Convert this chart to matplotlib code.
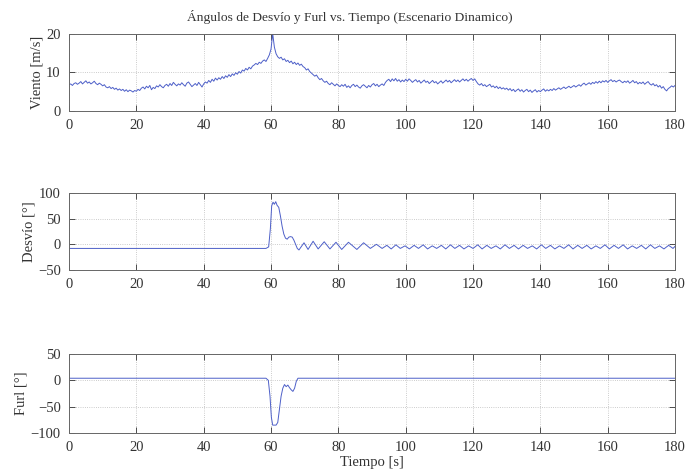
import numpy as np
import matplotlib
matplotlib.use("Agg")
import matplotlib.pyplot as plt

plt.rcParams['font.family'] = ['Liberation Serif', 'DejaVu Serif']

title = "Ángulos de Desvío y Furl vs. Tiempo (Escenario Dinamico)"
xlabel = "Tiempo [s]"
ylabels = ["Viento [m/s]", "Desvío [°]", "Furl [°]"]
xticks = [0, 20, 40, 60, 80, 100, 120, 140, 160, 180]

# Wind speed sampled every 0.5 s from 0 to 180 s
wind_step = 0.5
wind = [
    6.8,7.0,6.6,7.1,7.3,6.9,7.2,7.6,7.0,7.4,7.8,7.2,7.5,7.0,7.3,7.7,7.1,6.8,7.2,6.9,
    6.5,6.8,6.2,6.0,6.3,5.8,6.1,5.6,5.9,5.4,5.7,5.3,5.6,5.1,5.5,5.0,5.4,5.2,4.9,5.3,
    5.1,5.6,5.3,5.9,6.2,5.7,6.4,6.0,6.6,5.5,6.1,5.8,6.5,6.2,6.8,6.3,6.0,6.6,6.9,6.4,
    7.1,6.6,7.4,6.9,6.5,7.0,6.7,7.3,6.8,6.4,7.2,7.5,6.9,6.3,6.7,7.1,6.6,7.4,6.8,6.2,
    7.0,7.5,7.2,7.9,7.4,8.2,7.7,8.5,8.0,8.6,8.2,8.9,8.4,9.1,8.7,9.4,8.9,9.6,9.2,9.9,
    9.5,10.2,9.8,10.6,10.3,11.0,10.6,11.3,10.9,11.6,11.9,12.3,12.0,12.6,12.3,12.9,13.2,12.8,13.6,14.5,
    16.0,20.0,16.5,14.8,14.0,13.6,13.9,13.2,13.5,12.8,13.1,12.5,12.9,12.2,12.6,12.0,12.4,11.8,12.1,11.5,
    11.2,10.6,10.9,10.2,9.8,9.4,9.0,9.3,8.6,8.1,8.4,7.8,7.4,7.7,7.1,6.8,7.3,6.9,6.5,7.0,
    6.6,6.3,6.8,6.4,6.9,6.1,6.5,6.0,6.6,6.9,6.3,6.7,6.2,5.9,6.5,6.8,6.4,6.0,6.6,6.2,
    6.8,7.1,6.5,6.9,6.3,6.7,7.0,6.6,7.4,7.9,8.2,7.6,8.3,7.8,8.4,7.7,8.1,7.5,8.0,7.6,
    8.2,7.7,8.3,7.9,7.4,7.8,8.1,7.5,7.9,7.2,7.6,8.0,7.4,7.7,7.1,7.5,7.9,7.3,7.6,7.0,
    7.4,7.8,7.2,7.6,8.0,7.5,7.9,7.3,7.7,8.1,7.6,8.0,7.5,7.9,8.3,7.8,8.2,7.7,8.1,8.4,
    7.9,8.3,7.6,7.0,6.7,7.1,6.5,6.8,6.3,6.6,6.9,6.2,6.5,6.0,6.4,5.8,6.2,5.7,6.0,5.6,
    5.9,5.4,5.8,5.2,5.6,5.0,5.4,5.7,5.1,5.5,4.9,5.3,5.6,5.0,5.4,4.8,5.2,5.5,4.9,5.3,
    5.0,5.4,5.7,5.1,5.5,5.2,5.6,5.3,5.8,5.4,5.7,6.0,5.6,5.9,6.2,5.8,6.1,6.4,6.0,6.3,
    6.6,6.2,6.5,6.8,6.4,6.9,7.2,6.7,7.0,7.3,6.9,7.4,7.1,7.6,7.2,7.7,7.3,7.8,7.5,7.9,
    7.4,7.8,8.1,7.6,7.9,7.5,7.8,8.0,7.6,7.3,7.7,7.4,7.8,7.2,7.5,7.9,7.3,7.6,7.0,7.4,
    7.1,7.5,6.9,7.3,7.6,7.0,6.7,7.1,6.5,6.8,6.2,6.6,5.9,6.3,5.6,5.2,5.8,6.1,6.5,6.2,
    6.6,
]

desvio_t = [
    0, 58.5, 59.3, 59.8, 60.2, 60.6, 61.0, 61.4, 61.8, 62.3, 62.8, 63.3, 63.8, 64.3,
    64.8, 65.3, 65.8, 66.3, 66.8, 67.3, 67.8, 68.3,
    69.8, 71.0, 72.5, 74.0, 75.8, 77.5, 79.3, 81.0, 83.0, 85.5, 87.5, 89.5, 91.3,
    93.0, 94.4, 95.7, 97.1, 98.4, 99.8, 101.1, 102.5, 103.8, 105.2, 106.5, 107.9,
    109.2, 110.6, 111.9, 113.3, 114.6, 116.0, 117.3, 118.7, 120.0, 121.4, 122.7,
    124.1, 125.4, 126.8, 128.1, 129.5, 130.8, 132.2, 133.5, 134.9, 136.2, 137.6,
    138.9, 140.3, 141.6, 143.0, 144.3, 145.7, 147.0, 148.4, 149.7, 151.1, 152.4,
    153.8, 155.1, 156.5, 157.8, 159.2, 160.5, 161.9, 163.2, 164.6, 165.9, 167.3,
    168.6, 170.0, 171.3, 172.7, 174.0, 175.4, 176.7, 178.1, 179.4, 180.0,
]
desvio = [
    -8, -8, -5, 30, 75, 82, 78, 83, 76, 72, 55, 35, 20, 12,
    10, 14, 15, 14, 8, 0, -8, -11,
    3, -10, 6, -9, 5, -9, 4, -10, 4, -10, 3, -8, 0,
    -8, -2, -9, -1, -8, -3, -9, -2, -8, -1, -9, -3,
    -8, -2, -9, -1, -8, -2, -9, -3, -8, -1, -9,
    -2, -8, -3, -9, -1, -8, -2, -9, -2, -8, -3,
    -9, -1, -8, -2, -9, -3, -8, -1, -9, -2, -8,
    -2, -9, -3, -8, -1, -9, -2, -8, -1, -9, -3,
    -8, -2, -9, -1, -8, -3, -9, -2, -8, -4,
]

furl_t = [0, 58.5, 59.2, 59.7, 60.1, 60.5, 61.5, 62.0, 62.5, 63.0, 63.5, 64.0,
          64.5, 65.0, 65.5, 66.0, 66.5, 67.0, 67.5, 68.0, 180]
furl = [4, 4, 0, -30, -70, -85, -85, -80, -55, -30, -15, -8,
        -12, -9, -14, -18, -21, -15, -2, 4, 4]

ylims = [(0, 20), (-50, 100), (-100, 50)]
yticks = [[0, 10, 20], [-50, 0, 50, 100], [-100, -50, 0, 50]]

fig = plt.figure(figsize=(6.86, 4.76), dpi=100)
left, width = 0.1006, 0.8834
rects = [
    [left, 0.7668, width, 0.1626],
    [left, 0.4328, width, 0.1618],
    [left, 0.0903, width, 0.166],
]

t_wind = np.arange(len(wind)) * wind_step
series = [(t_wind, wind), (desvio_t, desvio), (furl_t, furl)]
line_color = '#4d5fc8'
txt = '#333333'

axes = []
for i, (r, (tx, vy)) in enumerate(zip(rects, series)):
    ax = fig.add_axes(r)
    ax.plot(tx, vy, color=line_color, lw=0.7)
    ax.set_xlim(0, 180)
    ax.set_ylim(*ylims[i])
    ax.set_xticks(xticks)
    ax.set_yticks(yticks[i])
    ax.grid(True, linestyle=':', color='#bbbbbb', lw=0.6)
    ax.tick_params(direction='in', top=True, right=True, labelsize=10.5,
                   colors=txt, length=4, width=0.6, pad=6)
    for s in ax.spines.values():
        s.set_color('#666666')
        s.set_linewidth(0.7)
    ax.set_ylabel(ylabels[i], fontsize=10.5, color=txt, labelpad=2)
    axes.append(ax)

fig.text(350 / 686, 1 - 17 / 476, title, fontsize=9.7, color=txt,
         ha='center', va='center')
axes[2].set_xlabel(xlabel, fontsize=10.5, color=txt, labelpad=1)

fig.savefig('out.png', dpi=100)
